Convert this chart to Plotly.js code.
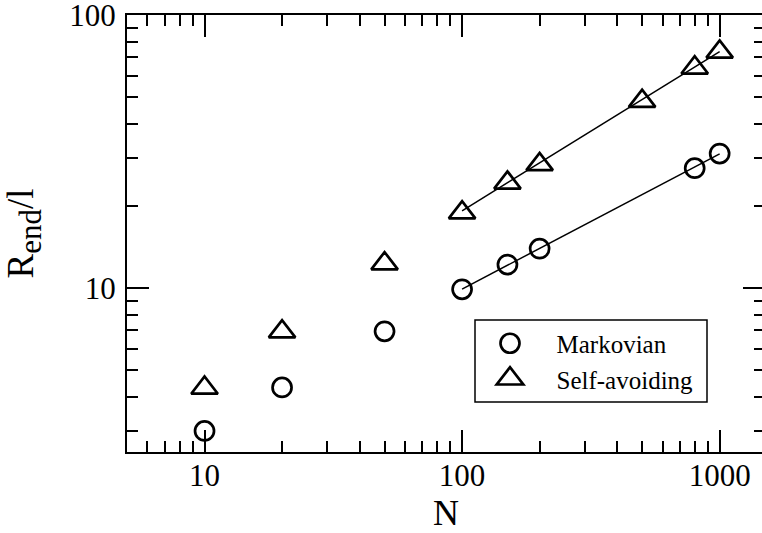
<!DOCTYPE html>
<html>
<head>
<meta charset="utf-8">
<script src="https://cdn.plot.ly/plotly-3.0.1.min.js"></script>
<style>
html,body{margin:0;padding:0;overflow:hidden;background:#fff;}
#plot{width:770px;height:533px;}
.legendpoints path{vector-effect:non-scaling-stroke;}
</style>
</head>
<body>
<div id="plot"></div>
<script>
// Data
const markovN = [10, 20, 50, 100, 150, 200, 800, 1000];
const markovR = [3.0, 4.33, 6.95, 9.9, 12.2, 13.95, 27.5, 31.1];
const selfAvoidN = [10, 20, 50, 100, 150, 200, 500, 800, 1000];
const selfAvoidR = [4.31, 6.93, 12.3, 18.9, 24.3, 28.4, 48.4, 64.1, 73.3];
// Power-law fit lines (N = 100 .. 1000)
const fitN = [100, 1000];
const markovFit = [9.92, 31.0];
const selfAvoidFit = [19.2, 73.4];
// Tick values / labels
const xTickVals = [10, 100, 1000];
const xTickText = ['10', '100', '1000'];
const xMinorVals = [6, 7, 8, 9, 20, 30, 40, 50, 60, 70, 80, 90, 200, 300, 400, 500, 600, 700, 800, 900];
const yTickVals = [10, 100];
const yTickText = ['10', '100'];
const yMinorVals = [3, 4, 5, 6, 7, 8, 9, 20, 30, 40, 50, 60, 70, 80, 90];
const seriesNames = ['Markovian', 'Self-avoiding'];

const FONT = '"Liberation Serif", "Times New Roman", serif';
const circleSize = 19, triangleSize = 23;

const traces = [
  {x: fitN, y: markovFit, mode: 'lines', line: {color: '#000', width: 1.5}, showlegend: false, hoverinfo: 'skip'},
  {x: fitN, y: selfAvoidFit, mode: 'lines', line: {color: '#000', width: 1.5}, showlegend: false, hoverinfo: 'skip'},
  {x: markovN, y: markovR, name: seriesNames[0], mode: 'markers',
   marker: {symbol: 'circle-open', size: circleSize, color: '#000', line: {width: 2.7, color: '#000'}}},
  {x: selfAvoidN, y: selfAvoidR, name: seriesNames[1], mode: 'markers',
   marker: {symbol: 'triangle-up-open', size: triangleSize, color: '#000', line: {width: 2.7, color: '#000'}}}
];

const axisCommon = {
  type: 'log', showgrid: false, zeroline: false,
  showline: true, linecolor: '#000', linewidth: 2, mirror: 'allticks',
  ticks: 'inside', ticklen: 22, tickwidth: 2, tickcolor: '#000',
  tickmode: 'array', ticklabeloverflow: 'allow',
  tickfont: {family: FONT, size: 31, color: '#000'}
};

const plotL = 127, plotR = 765, plotT = 15, plotB = 452;
const W = 770, H = 533;
function px(x){ return (x - plotL) / (plotR - plotL); }
function py(y){ return 1 - (y - plotT) / (plotB - plotT); }

const layout = {
  width: W, height: H,
  margin: {l: plotL, r: W - plotR, t: plotT, b: H - plotB},
  paper_bgcolor: '#fff', plot_bgcolor: '#fff',
  font: {family: FONT, color: '#000'},
  xaxis: Object.assign({}, axisCommon, {
    range: [Math.log10(5), Math.log10(1500)],
    tickvals: xTickVals, ticktext: xTickText,
    minor: {tickmode: 'array', tickvals: xMinorVals, ticks: 'inside', ticklen: 11, tickwidth: 2, tickcolor: '#000', showgrid: false},
    title: {text: 'N', font: {family: FONT, size: 36, color: '#000'}, standoff: 4}
  }),
  yaxis: Object.assign({}, axisCommon, {
    range: [0.4, 2.0002],
    tickvals: yTickVals, ticktext: yTickText,
    ticklabelstandoff: 3,
    minor: {tickmode: 'array', tickvals: yMinorVals, ticks: 'inside', ticklen: 11, tickwidth: 2, tickcolor: '#000', showgrid: false},
    title: {text: 'R<sub><span style="font-size:31px">end</span></sub>/l', font: {family: FONT, size: 37, color: '#000'}, standoff: 26}
  }),
  showlegend: true,
  legend: {
    x: px(463.5), xanchor: 'left', y: py(361), yanchor: 'middle',
    bgcolor: 'rgba(0,0,0,0)', borderwidth: 0, itemwidth: 83,
    font: {family: FONT, size: 25, color: '#000'},
    traceorder: 'normal'
  },
  shapes: [{
    type: 'rect', xref: 'paper', yref: 'paper',
    x0: px(475), x1: px(707), y0: py(402), y1: py(320),
    line: {color: '#000', width: 1.5}, fillcolor: 'rgba(0,0,0,0)', layer: 'above'
  }]
};

Plotly.newPlot('plot', traces, layout, {staticPlot: true, displayModeBar: false}).then(function(gd){
  // legend markers are capped at 16px by Plotly; scale them to match the plot markers
  const scales = [circleSize / 16, triangleSize / 16];
  gd.querySelectorAll('.legend .traces').forEach(function(g, i){
    g.querySelectorAll('.legendpoints path').forEach(function(p){
      const t = p.getAttribute('transform') || '';
      p.setAttribute('transform', t + ' scale(' + scales[i] + ')');
    });
  });
  // lift x tick labels slightly closer to the axis, as in the reference
  gd.querySelectorAll('.xaxislayer-above .xtick text').forEach(function(t){
    const y = parseFloat(t.getAttribute('y'));
    if (!isNaN(y)) t.setAttribute('y', y - 5.5);
  });
});
</script>
</body>
</html>
